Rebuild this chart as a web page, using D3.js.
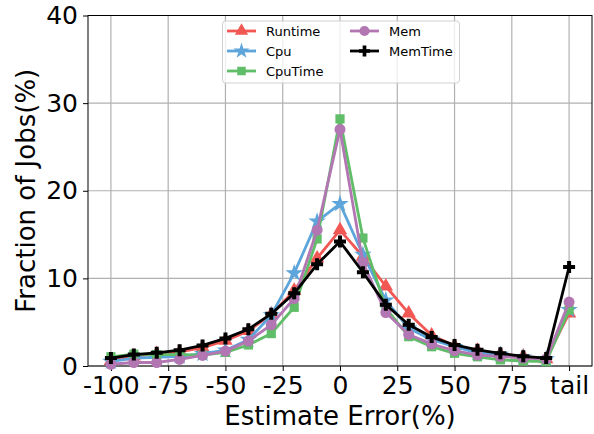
<!DOCTYPE html>
<html>
<head>
<meta charset="utf-8">
<title>Estimate Error</title>
<script src="https://d3js.org/d3.v7.min.js"></script>
<style>
  body { margin: 0; background: #fff; }
  svg { font-family: "DejaVu Sans", sans-serif; display: block; }
</style>
</head>
<body>
<script>
// x positions (tail is drawn at 100)
var xVals = [-100, -90, -80, -70, -60, -50, -40, -30, -20, -10, 0, 10, 20, 30, 40, 50, 60, 70, 80, 90, 100];
var tickVals = [-100, -75, -50, -25, 0, 25, 50, 75, 100];
var tickLabels = ["-100", "-75", "-50", "-25", "0", "25", "50", "75", "tail"];
var yTicks = [0, 10, 20, 30, 40];

var runtime = [0.6, 1.1, 1.4, 1.6, 2.1, 2.9, 4.0, 5.9, 8.6, 12.3, 15.5, 12.5, 9.1, 6.0, 3.5, 2.3, 1.75, 1.35, 1.1, 0.8, 6.0];
var cpu     = [0.5, 0.9, 1.0, 1.1, 1.4, 1.8, 3.0, 5.8, 10.6, 16.5, 18.5, 12.7, 7.5, 4.3, 3.0, 2.2, 1.5, 1.3, 1.0, 0.8, 6.4];
var cpuTime = [1.05, 1.35, 1.3, 1.3, 1.25, 1.55, 2.4, 3.7, 6.7, 14.5, 28.2, 14.6, 6.6, 3.35, 2.2, 1.45, 1.05, 0.7, 0.57, 0.5, 6.4];
var mem     = [0.2, 0.4, 0.4, 0.75, 1.2, 1.7, 2.85, 4.7, 7.7, 15.5, 27.0, 11.8, 6.1, 3.6, 2.5, 1.75, 1.25, 1.1, 0.9, 0.8, 7.3];
var memTime = [0.9, 1.3, 1.5, 1.8, 2.35, 3.15, 4.2, 5.95, 8.3, 11.6, 14.2, 10.7, 7.0, 4.7, 3.3, 2.4, 1.85, 1.45, 1.1, 0.9, 11.3];

var series = [
  {name: "Runtime", values: runtime, color: "#F15854", symbol: d3.symbolTriangle, size: 90},
  {name: "Cpu", values: cpu, color: "#5DA5DA", symbol: d3.symbolStar, size: 95},
  {name: "CpuTime", values: cpuTime, color: "#60BD68", symbol: d3.symbolSquare, size: 85},
  {name: "Mem", values: mem, color: "#B276B2", symbol: d3.symbolCircle, size: 95},
  {name: "MemTime", values: memTime, color: "#000000", symbol: d3.symbolCross, size: 80}
];

var W = 594, H = 434;
var margin = {top: 15.5, right: 2, bottom: 68, left: 88};
var width = W - margin.left - margin.right,
    height = H - margin.top - margin.bottom;

var svg = d3.select("body").append("svg")
    .attr("width", W)
    .attr("height", H);

var g = svg.append("g")
    .attr("transform", "translate(" + margin.left + "," + margin.top + ")");

var x = d3.scaleLinear().domain([-110, 110]).range([0, width]);
var y = d3.scaleLinear().domain([0, 40]).range([height, 0]);

// grid
g.append("g").selectAll("line")
  .data(tickVals)
  .enter().append("line")
    .attr("x1", function(d){ return x(d); })
    .attr("x2", function(d){ return x(d); })
    .attr("y1", 0).attr("y2", height)
    .attr("stroke", "#b0b0b0").attr("stroke-width", 1.2);
g.append("g").selectAll("line")
  .data(yTicks)
  .enter().append("line")
    .attr("y1", function(d){ return y(d); })
    .attr("y2", function(d){ return y(d); })
    .attr("x1", 0).attr("x2", width)
    .attr("stroke", "#b0b0b0").attr("stroke-width", 1.2);

// axes
var xAxis = g.append("g")
    .attr("transform", "translate(0," + height + ")")
    .call(d3.axisBottom(x).tickValues(tickVals)
      .tickFormat(function(d, i){ return tickLabels[i]; })
      .tickSize(5).tickPadding(5));
var yAxis = g.append("g")
    .call(d3.axisLeft(y).tickValues(yTicks).tickSize(5).tickPadding(5));

[xAxis, yAxis].forEach(function(a){
  a.select(".domain").remove();
  a.selectAll("line").attr("stroke", "#000").attr("stroke-width", 1);
  a.selectAll("text").attr("fill", "#000")
    .style("font-family", "DejaVu Sans").style("font-size", "25px");
});
xAxis.selectAll("text").attr("dy", "0.72em");

// frame
g.append("rect")
    .attr("width", width).attr("height", height)
    .attr("fill", "none").attr("stroke", "#000").attr("stroke-width", 1);

// lines
var line = d3.line()
    .x(function(d, i){ return x(xVals[i]); })
    .y(function(d){ return y(d); });

series.forEach(function(s){
  var sg = g.append("g");
  sg.append("path")
    .attr("d", line(s.values))
    .attr("fill", "none")
    .attr("stroke", s.color)
    .attr("stroke-width", 2.8)
    .attr("stroke-linejoin", "round");
  sg.selectAll("path.mk")
    .data(s.values)
    .enter().append("path")
      .attr("class", "mk")
      .attr("d", d3.symbol().type(s.symbol).size(s.size))
      .attr("transform", function(d, i){ return "translate(" + x(xVals[i]) + "," + y(d) + ")"; })
      .attr("fill", s.color);
});

// axis labels
svg.append("text")
    .attr("x", margin.left + width / 2)
    .attr("y", 425)
    .attr("text-anchor", "middle")
    .style("font-size", "26px")
    .text("Estimate Error(%)");
svg.append("text")
    .attr("transform", "translate(35," + (margin.top + height / 2) + ") rotate(-90)")
    .attr("text-anchor", "middle")
    .style("font-size", "26px")
    .text("Fraction of Jobs(%)");

// legend
var legend = svg.append("g");
legend.append("rect")
    .attr("x", 222.5).attr("y", 21)
    .attr("width", 237).attr("height", 62)
    .attr("rx", 3)
    .attr("fill", "#fff").attr("fill-opacity", 0.8)
    .attr("stroke", "#d0d0d0").attr("stroke-width", 1);

series.forEach(function(s, i){
  var col = i < 3 ? 0 : 1;
  var row = i < 3 ? i : i - 3;
  var lx = col === 0 ? 227 : 350;
  var ly = 31 + row * 20;
  var item = legend.append("g");
  item.append("line")
    .attr("x1", lx).attr("x2", lx + 29)
    .attr("y1", ly).attr("y2", ly)
    .attr("stroke", s.color).attr("stroke-width", 2.8);
  item.append("path")
    .attr("d", d3.symbol().type(s.symbol).size(s.size * 0.85))
    .attr("transform", "translate(" + (lx + 14.5) + "," + ly + ")")
    .attr("fill", s.color);
  item.append("text")
    .attr("x", lx + 39).attr("y", ly + 5)
    .style("font-size", "13px")
    .text(s.name);
});
</script>
</body>
</html>
